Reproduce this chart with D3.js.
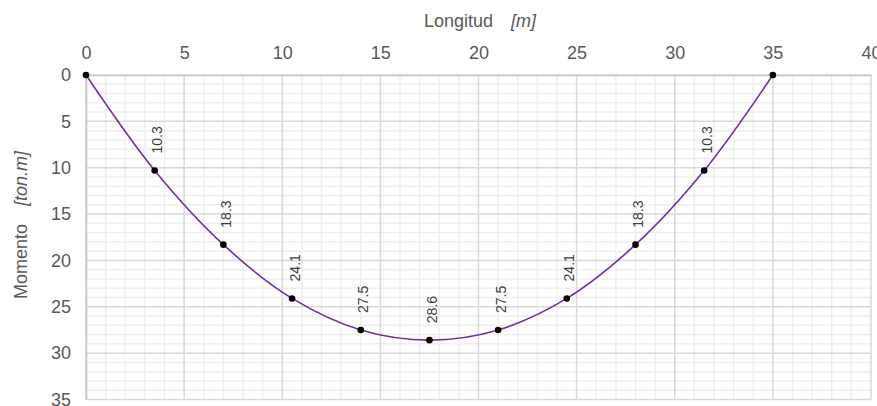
<!DOCTYPE html>
<html>
<head>
<meta charset="utf-8">
<script src="https://cdn.jsdelivr.net/npm/d3@7"></script>
<style>
  html, body { margin: 0; padding: 0; background: #fff; }
  svg { display: block; font-family: "Liberation Sans", Arial, sans-serif; }
</style>
</head>
<body>
<svg id="chart" width="877" height="406"></svg>
<script>
// Bending moment along the beam (station in m, moment in ton·m)
const stations = [0, 3.5, 7, 10.5, 14, 17.5, 21, 24.5, 28, 31.5, 35];
const moments  = [0, 10.3, 18.3, 24.1, 27.5, 28.6, 27.5, 24.1, 18.3, 10.3, 0];
const xTicks = [0, 5, 10, 15, 20, 25, 30, 35, 40];
const yTicks = [0, 5, 10, 15, 20, 25, 30, 35];

const svg = d3.select("#chart");
const plotL = 86, plotR = 871, plotT = 75, plotB = 399.5;

const x = d3.scaleLinear().domain([0, 40]).range([plotL, plotR]);
const y = d3.scaleLinear().domain([0, 35]).range([plotT, plotB]);

const grid = svg.append("g");
// minor grid every 1 unit
grid.selectAll(".mx").data(d3.range(0, 41, 1).filter(d => d % 5 !== 0)).join("line")
  .attr("x1", d => x(d)).attr("x2", d => x(d)).attr("y1", plotT).attr("y2", plotB)
  .attr("stroke", "#efefef").attr("stroke-width", 1.5);
grid.selectAll(".my").data(d3.range(0, 36, 1).filter(d => d % 5 !== 0)).join("line")
  .attr("y1", d => y(d)).attr("y2", d => y(d)).attr("x1", plotL).attr("x2", plotR)
  .attr("stroke", "#efefef").attr("stroke-width", 1.5);
// major grid
grid.selectAll(".Mx").data(xTicks).join("line")
  .attr("x1", d => x(d)).attr("x2", d => x(d)).attr("y1", plotT).attr("y2", plotB)
  .attr("stroke", "#d9d9d9").attr("stroke-width", 1.5);
grid.selectAll(".My").data(yTicks).join("line")
  .attr("y1", d => y(d)).attr("y2", d => y(d)).attr("x1", plotL).attr("x2", plotR)
  .attr("stroke", "#d9d9d9").attr("stroke-width", 1.5);

// axes on top and left
const xAxis = svg.append("g").attr("transform", `translate(0,${plotT})`)
  .call(d3.axisTop(x).tickValues(xTicks).tickSize(0).tickPadding(16.5));
const yAxis = svg.append("g").attr("transform", `translate(${plotL},0)`)
  .call(d3.axisLeft(y).tickValues(yTicks).tickSize(0).tickPadding(15));
[xAxis, yAxis].forEach(a => {
  a.select(".domain").attr("stroke", "#c8c8c8").attr("stroke-width", 1.5);
  a.selectAll("text").attr("fill", "#595959").attr("font-size", 18)
    .attr("font-family", "Liberation Sans, Arial, sans-serif");
});

// axis titles
const xt = svg.append("text").attr("x", 424).attr("y", 27).attr("text-anchor", "start")
  .attr("fill", "#595959").attr("font-size", 18);
xt.append("tspan").text("Longitud");
xt.append("tspan").attr("dx", 18).attr("font-style", "italic").text("[m]");

const yt = svg.append("text").attr("transform", "translate(27,225) rotate(-90)")
  .attr("text-anchor", "middle").attr("fill", "#595959").attr("font-size", 18);
yt.append("tspan").text("Momento");
yt.append("tspan").attr("dx", 18).attr("font-style", "italic").text("[ton.m]");

// moment curve
const pts = stations.map((s, i) => [s, moments[i]]);
svg.append("path").datum(pts)
  .attr("fill", "none").attr("stroke", "#7030a0").attr("stroke-width", 1.6)
  .attr("d", d3.line().x(d => x(d[0])).y(d => y(d[1])).curve(d3.curveCatmullRom.alpha(0.5)));

svg.selectAll(".pt").data(pts).join("circle")
  .attr("cx", d => x(d[0])).attr("cy", d => y(d[1])).attr("r", 3.3).attr("fill", "#000");

// value labels above interior points
svg.selectAll(".lbl").data(pts.filter(d => d[1] > 0)).join("text")
  .attr("transform", d => `translate(${x(d[0]) + 7.5},${y(d[1]) - 17}) rotate(-90)`)
  .attr("text-anchor", "start").attr("fill", "#404040").attr("font-size", 14)
  .text(d => d[1].toFixed(1));
</script>
</body>
</html>
